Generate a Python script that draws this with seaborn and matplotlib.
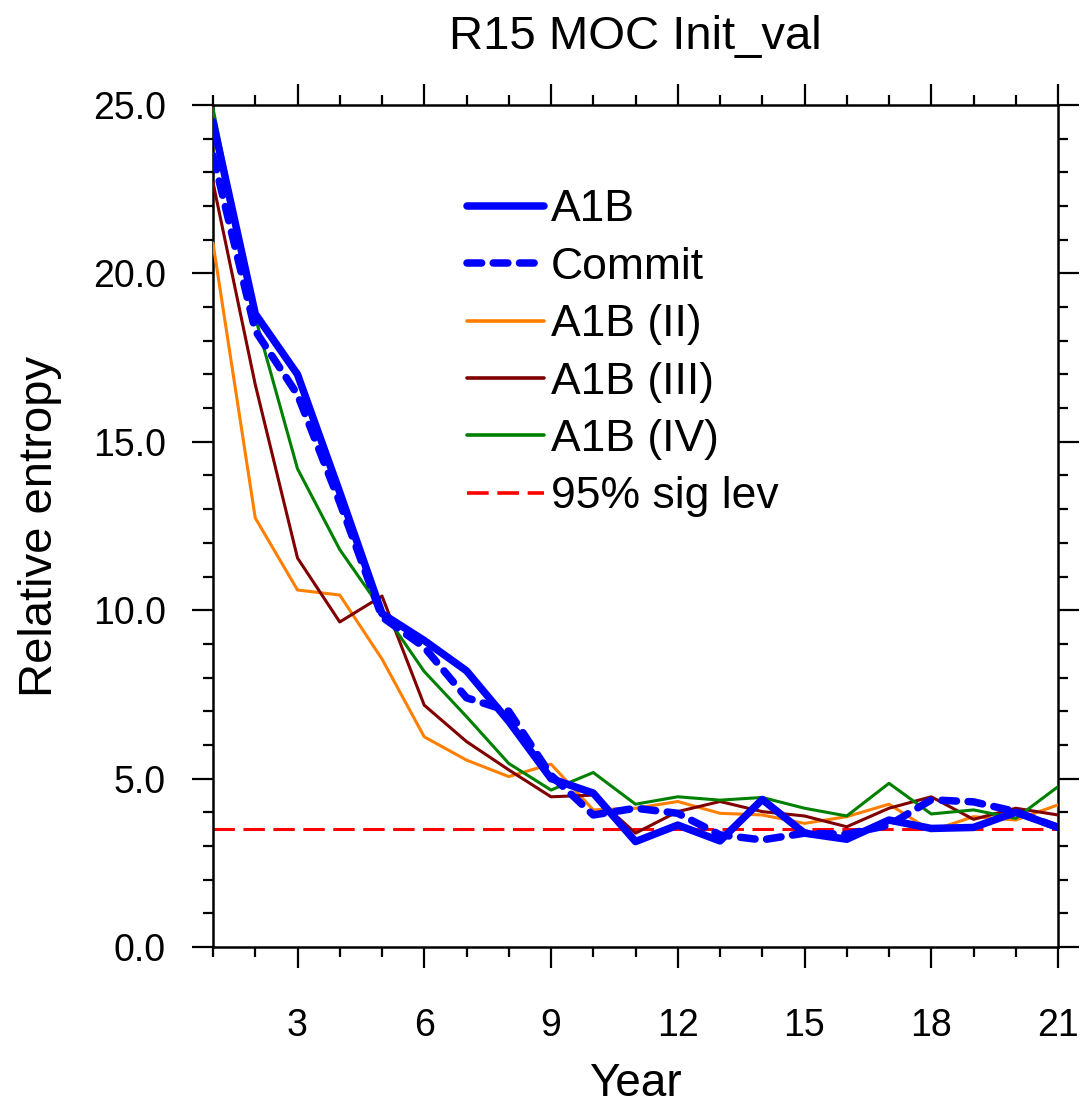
import numpy as np
import pandas as pd
import matplotlib
matplotlib.use("Agg")
import matplotlib.pyplot as plt
from matplotlib.ticker import MultipleLocator, FormatStrFormatter
from matplotlib.lines import Line2D
import seaborn as sns

years = list(range(1, 22))
a1b = [24.5, 18.8, 17.0, 13.5, 9.9, 9.1, 8.2, 6.7, 5.0, 4.57, 3.13, 3.62, 3.15, 4.38, 3.38, 3.2, 3.77, 3.52, 3.55, 4.0, 3.55]
commit = [23.5, 18.3, 16.4, 13.2, 9.8, 8.9, 7.4, 7.0, 5.1, 3.92, 4.12, 3.97, 3.33, 3.18, 3.38, 3.35, 3.62, 4.37, 4.31, 4.02, 3.55]
a1b_ii = [20.9, 12.74, 10.6, 10.45, 8.55, 6.24, 5.55, 5.06, 5.43, 4.07, 4.12, 4.32, 3.97, 3.92, 3.67, 3.87, 4.24, 3.45, 3.87, 3.77, 4.22]
a1b_iii = [22.7, 16.7, 11.55, 9.65, 10.42, 7.18, 6.1, 5.26, 4.46, 4.51, 3.38, 4.02, 4.32, 4.02, 3.89, 3.57, 4.12, 4.46, 3.79, 4.12, 3.92]
a1b_iv = [24.9, 18.7, 14.2, 11.8, 10.0, 8.18, 6.84, 5.45, 4.66, 5.18, 4.24, 4.46, 4.36, 4.44, 4.12, 3.89, 4.86, 3.95, 4.07, 3.82, 4.76]
sig_level = 3.5

labels = ["A1B", "Commit", "A1B (II)", "A1B (III)", "A1B (IV)", "95% sig lev"]
colors = ["#0000ff", "#0000ff", "#ff8000", "#800000", "#008000", "#ff0000"]

sns.set_style("ticks")
plt.rcParams['font.family'] = ['Liberation Sans', 'DejaVu Sans']
plt.rcParams['text.color'] = 'black'
plt.rcParams['axes.labelcolor'] = 'black'
plt.rcParams['xtick.color'] = 'black'
plt.rcParams['ytick.color'] = 'black'

fig = plt.figure(figsize=(10.82, 11.04), dpi=100)
ax = fig.add_axes([213/1082, 1-947/1104, (1058-213)/1082, (947-105)/1104])

commit_dash = (0, (1.95, 1.55))
sig_dash = (0, (7, 2.8))

series = [a1b, commit, a1b_ii, a1b_iii, a1b_iv]
styles = [dict(lw=5.4, ls='-'), dict(lw=5.4, ls=commit_dash),
          dict(lw=2.2, ls='-'), dict(lw=2.2, ls='-'), dict(lw=2.2, ls='-')]
order = [2, 3, 4, 1, 0]
for i in order:
    df = pd.DataFrame({"Year": years, "val": series[i]})
    sns.lineplot(data=df, x="Year", y="val", ax=ax, color=colors[i],
                 linewidth=styles[i]['lw'], linestyle=styles[i]['ls'],
                 solid_capstyle='round', dash_capstyle='round', zorder=3 + (i < 2))

ax.axhline(sig_level, color=colors[5], lw=2.2, ls=sig_dash, zorder=2)

ax.set_xlim(1, 21)
ax.set_ylim(0, 25)
ax.xaxis.set_major_locator(MultipleLocator(3))
ax.xaxis.set_minor_locator(MultipleLocator(1))
ax.yaxis.set_major_locator(MultipleLocator(5))
ax.yaxis.set_minor_locator(MultipleLocator(1))
ax.yaxis.set_major_formatter(FormatStrFormatter('%.1f'))
ax.set_xticks([3, 6, 9, 12, 15, 18, 21])

for s in ax.spines.values():
    s.set_visible(True)
    s.set_linewidth(1.8)
    s.set_color('black')

ax.tick_params(which='both', direction='out', top=True, right=True,
               labeltop=False, labelright=False, width=1.6, color='black')
ax.tick_params(which='major', length=15, labelsize=27, labelcolor='black')
ax.tick_params(which='minor', length=7)
ax.tick_params(axis='x', which='major', pad=29)
ax.tick_params(axis='y', which='major', pad=19)

ax.set_xlabel("Year", fontsize=33, labelpad=13, color='black')
ax.set_ylabel("Relative entropy", fontsize=34, labelpad=22, color='black')
ax.set_title("R15 MOC Init_val", fontsize=34, pad=40, color='black')

handles = [
    Line2D([0], [0], color=colors[0], lw=5.4, ls='-', solid_capstyle='round'),
    Line2D([0], [0], color=colors[1], lw=5.4, ls=commit_dash, dash_capstyle='round'),
    Line2D([0], [0], color=colors[2], lw=2.6),
    Line2D([0], [0], color=colors[3], lw=2.6),
    Line2D([0], [0], color=colors[4], lw=2.6),
    Line2D([0], [0], color=colors[5], lw=2.6, ls=(0, (6, 2.4))),
]
leg = ax.legend(handles, labels, loc='upper left', bbox_to_anchor=(0.300, 0.900),
                frameon=False, fontsize=32, handlelength=1.75, handletextpad=0.15,
                labelspacing=0.37, borderpad=0, borderaxespad=0)
for t in leg.get_texts():
    t.set_color('black')

fig.savefig("out.png", dpi=100)
